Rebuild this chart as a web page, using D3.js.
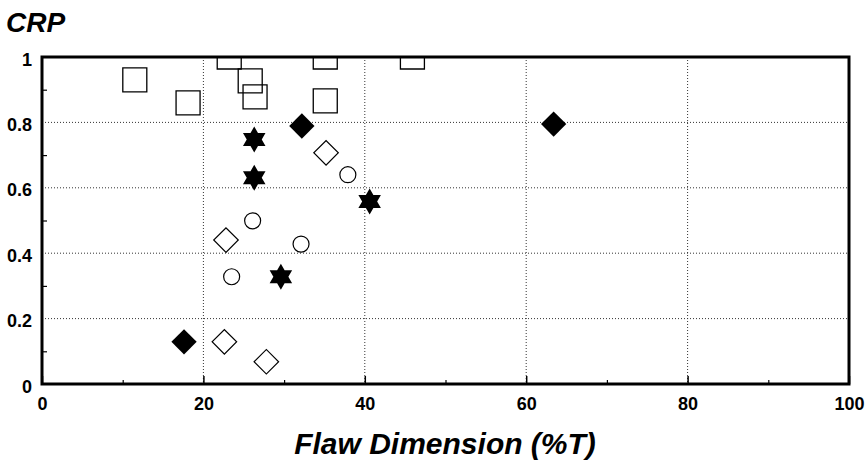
<!DOCTYPE html>
<html>
<head>
<meta charset="utf-8">
<script src="https://cdn.jsdelivr.net/npm/d3@7"></script>
<style>
  html, body { margin: 0; padding: 0; background: #fff; }
  svg { display: block; font-family: "Liberation Sans", Arial, sans-serif; }
</style>
</head>
<body>
<svg id="chart" width="865" height="466"></svg>
<script>
// Flaw dimension (%T) vs. CRP, four sets of points
const squareX   = [11.5, 18.1, 23.2, 25.8, 26.4, 35.1, 35.1, 45.9];
const squareY   = [0.93, 0.86, 1.00, 0.927, 0.878, 1.00, 0.866, 1.00];

const solidDiamondX = [17.6, 32.2, 63.4];
const solidDiamondY = [0.129, 0.789, 0.795];

const openDiamondX = [22.6, 22.8, 27.8, 35.2];
const openDiamondY = [0.129, 0.440, 0.068, 0.707];

const circleX = [23.5, 26.1, 32.1, 37.9];
const circleY = [0.328, 0.499, 0.428, 0.640];

const starX = [26.3, 26.3, 29.6, 40.6];
const starY = [0.748, 0.631, 0.328, 0.558];

const xTicks = [0, 20, 40, 60, 80, 100];
const xMinor = [10, 30, 50, 70, 90];
const yTicks = [0, 0.2, 0.4, 0.6, 0.8, 1];
const yMinor = [0.1, 0.3, 0.5, 0.7, 0.9];
const yTickLabels = ["0", "0.2", "0.4", "0.6", "0.8", "1"];

const svg = d3.select("#chart");
const plotL = 42, plotR = 849, plotT = 57, plotB = 384;

const x = d3.scaleLinear().domain([0, 100]).range([plotL, plotR]);
const y = d3.scaleLinear().domain([0, 1]).range([plotB, plotT]);

// dotted grid
const grid = svg.append("g").attr("stroke", "#333").attr("stroke-width", 1)
  .attr("stroke-dasharray", "1,2");
grid.selectAll(".gx").data(xTicks.slice(1, -1)).join("line")
  .attr("x1", d => x(d)).attr("x2", d => x(d))
  .attr("y1", plotT).attr("y2", plotB);
grid.selectAll(".gy").data(yTicks.slice(1, -1)).join("line")
  .attr("x1", plotL).attr("x2", plotR)
  .attr("y1", d => y(d)).attr("y2", d => y(d));

// axes (ticks point inward)
const xAxis = d3.axisBottom(x).tickValues(xTicks).tickSize(-8).tickPadding(13)
  .tickFormat(d3.format("d"));
const gx = svg.append("g").attr("transform", `translate(0,${plotB})`).call(xAxis);
gx.select(".domain").remove();
gx.selectAll("line").attr("stroke", "#000").attr("stroke-width", 1.5);
gx.selectAll("text").attr("font-size", 18).attr("font-weight", "bold").attr("fill", "#000");

const xMinorAxis = d3.axisBottom(x).tickValues(xMinor).tickSize(-4).tickFormat("");
const gxm = svg.append("g").attr("transform", `translate(0,${plotB})`).call(xMinorAxis);
gxm.select(".domain").remove();
gxm.selectAll("line").attr("stroke", "#000").attr("stroke-width", 1.2);

const yAxis = d3.axisLeft(y).tickValues(yTicks).tickSize(0).tickPadding(10)
  .tickFormat((d, i) => yTickLabels[i]);
const gy = svg.append("g").attr("transform", `translate(${plotL},0)`).call(yAxis);
gy.select(".domain").remove();
gy.selectAll("text").attr("font-size", 18).attr("font-weight", "bold").attr("fill", "#000")
  .attr("dy", "0.45em");

const yMinorAxis = d3.axisLeft(y).tickValues(yMinor).tickSize(-5).tickFormat("");
const gym = svg.append("g").attr("transform", `translate(${plotL},0)`).call(yMinorAxis);
gym.select(".domain").remove();
gym.selectAll("line").attr("stroke", "#000").attr("stroke-width", 1.2);

// markers, clipped to the plot frame
svg.append("clipPath").attr("id", "plotClip").append("rect")
  .attr("x", plotL).attr("y", plotT).attr("width", plotR - plotL).attr("height", plotB - plotT);
const marks = svg.append("g").attr("clip-path", "url(#plotClip)");

function pairs(xs, ys) { return xs.map((v, i) => [v, ys[i]]); }

const squarePath = d3.symbol().type(d3.symbolSquare).size(576)();
marks.selectAll(".sq").data(pairs(squareX, squareY)).join("path")
  .attr("d", squarePath)
  .attr("transform", d => `translate(${x(d[0])},${y(d[1])})`)
  .attr("fill", "none").attr("stroke", "#000").attr("stroke-width", 1.3);

const diamondPath = d3.symbol().type(d3.symbolSquare).size(320)();
marks.selectAll(".fd").data(pairs(solidDiamondX, solidDiamondY)).join("path")
  .attr("d", diamondPath)
  .attr("transform", d => `translate(${x(d[0])},${y(d[1])}) rotate(45)`)
  .attr("fill", "#000");

const openDiamondPath = d3.symbol().type(d3.symbolSquare).size(300)();
marks.selectAll(".od").data(pairs(openDiamondX, openDiamondY)).join("path")
  .attr("d", openDiamondPath)
  .attr("transform", d => `translate(${x(d[0])},${y(d[1])}) rotate(45)`)
  .attr("fill", "#fff").attr("stroke", "#000").attr("stroke-width", 1.2);

marks.selectAll(".ci").data(pairs(circleX, circleY)).join("circle")
  .attr("cx", d => x(d[0])).attr("cy", d => y(d[1])).attr("r", 8)
  .attr("fill", "#fff").attr("stroke", "#000").attr("stroke-width", 1.2);

// six-pointed star outline
const outerR = 13, innerR = 7.5;
const starPts = d3.range(12).map(i => {
  const a = Math.PI / 6 * i - Math.PI / 2;
  const r = i % 2 === 0 ? outerR : innerR;
  return [r * Math.cos(a), r * Math.sin(a)];
});
const starPath = d3.line()(starPts) + "Z";
marks.selectAll(".st").data(pairs(starX, starY)).join("path")
  .attr("d", starPath)
  .attr("transform", d => `translate(${x(d[0])},${y(d[1])})`)
  .attr("fill", "#000");

// frame
svg.append("rect").attr("x", plotL).attr("y", plotT)
  .attr("width", plotR - plotL).attr("height", plotB - plotT)
  .attr("fill", "none").attr("stroke", "#000").attr("stroke-width", 3);

// titles
svg.append("text").attr("x", 6).attr("y", 32)
  .attr("font-size", 28).attr("font-weight", "bold").attr("font-style", "italic")
  .text("CRP");

svg.append("text").attr("x", 445).attr("y", 454)
  .attr("text-anchor", "middle")
  .attr("font-size", 30).attr("font-weight", "bold").attr("font-style", "italic")
  .text("Flaw Dimension (%T)");
</script>
</body>
</html>
